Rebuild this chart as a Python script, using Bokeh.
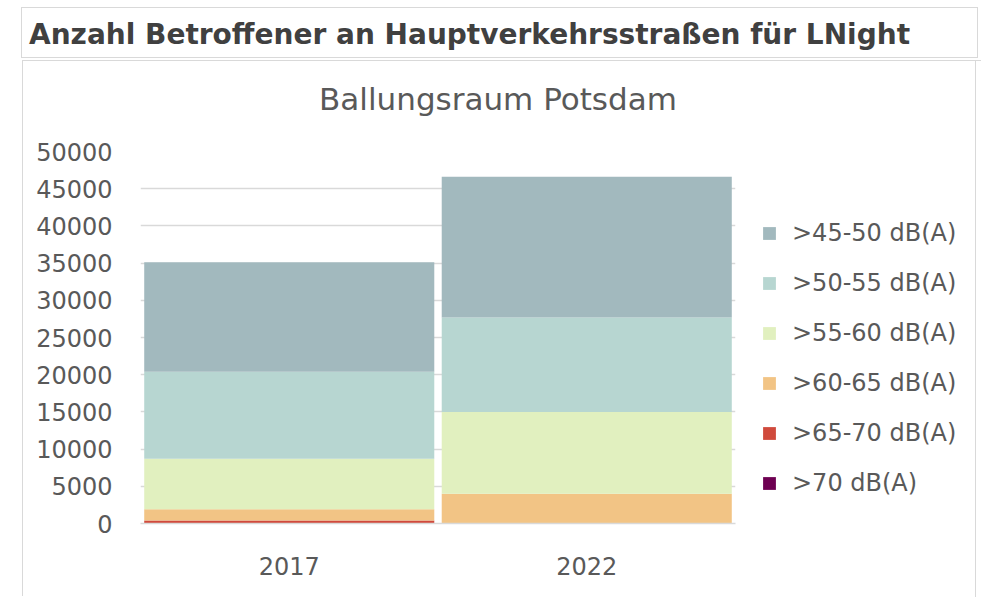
from bokeh.plotting import figure
from bokeh.layouts import column
from bokeh.models import (ColumnDataSource, FactorRange, Legend, LegendItem, Div,
                          FixedTicker, NumeralTickFormatter)
from bokeh.embed import file_html
from bokeh.resources import INLINE

# ---- data ----
years = ["2017", "2022"]
levels = [">70 dB(A)", ">65-70 dB(A)", ">60-65 dB(A)", ">55-60 dB(A)", ">50-55 dB(A)", ">45-50 dB(A)"]
v_ge70 = [0, 0]
v_65_70 = [400, 0]
v_60_65 = [1500, 4000]
v_55_60 = [6800, 11000]
v_50_55 = [11700, 12700]
v_45_50 = [14700, 18900]
colors = ["#6E0052", "#D04A3C", "#F2C485", "#E1F0BF", "#B7D6D1", "#A2B9BE"]
y_ticks = [0, 5000, 10000, 15000, 20000, 25000, 30000, 35000, 40000, 45000, 50000]

title_text = "Anzahl Betroffener an Hauptverkehrsstraßen für LNight"
subtitle_text = "Ballungsraum Potsdam"

keys = ["ge70", "s65_70", "s60_65", "s55_60", "s50_55", "s45_50"]
source = ColumnDataSource(dict(years=years, ge70=v_ge70, s65_70=v_65_70, s60_65=v_60_65,
                               s55_60=v_55_60, s50_55=v_50_55, s45_50=v_45_50))

FONT = "DejaVu Sans"
GRAY = "#595959"
BORDER = "1.5px solid #D9D9D9"

title_div = Div(text=title_text, width=957, height=51, margin=(7, 0, 0, 21),
                styles={"border": BORDER, "box-sizing": "border-box",
                        "font-family": FONT, "font-weight": "bold", "font-size": "28px",
                        "color": "#404040", "padding-left": "7px", "padding-top": "3px",
                        "line-height": "48px",
                        "white-space": "nowrap", "overflow": "hidden"})

sub_div = Div(text=subtitle_text, width=950, height=70, margin=0,
              styles={"font-family": FONT, "font-size": "31px", "color": GRAY,
                      "text-align": "center", "line-height": "77px", "white-space": "nowrap"})

p = figure(x_range=FactorRange(*years, range_padding=0), y_range=(0, 50000),
           frame_width=595, frame_height=372, output_backend="svg", toolbar_location=None,
           min_border_left=117, min_border_right=0, min_border_top=20, min_border_bottom=73,
           outline_line_color=None, title=None, margin=0)
p.x_range.range_padding = 0

rs = p.vbar_stack(keys, x="years", width=0.975, color=colors, line_color=None, source=source)

# axes
p.yaxis.ticker = FixedTicker(ticks=y_ticks)
p.yaxis.formatter = NumeralTickFormatter(format="0")
p.yaxis.axis_line_color = None
p.yaxis.major_tick_line_color = None
p.yaxis.minor_tick_line_color = None
p.yaxis.major_label_standoff = 22
p.yaxis.major_label_text_font = FONT
p.yaxis.major_label_text_font_size = "24px"
p.yaxis.major_label_text_color = GRAY

p.xaxis.axis_line_color = "#D9D9D9"
p.xaxis.axis_line_width = 1.5
p.xaxis.major_tick_line_color = None
p.xaxis.minor_tick_line_color = None
p.xaxis.major_label_standoff = 27
p.xaxis.major_label_text_font = FONT
p.xaxis.major_label_text_font_size = "24px"
p.xaxis.major_label_text_color = GRAY

p.xgrid.grid_line_color = None
p.ygrid.grid_line_color = "#D9D9D9"
p.ygrid.grid_line_width = 1.5

# legend (top item = >45-50)
items = [LegendItem(label=levels[i], renderers=[rs[i]]) for i in reversed(range(len(levels)))]
legend = Legend(items=items, location="bottom_left", orientation="vertical",
                label_text_font=FONT, label_text_font_size="24px", label_text_color=GRAY,
                glyph_width=16, glyph_height=16, label_height=28, spacing=22,
                label_standoff=15, padding=0, margin=26,
                border_line_color=None, background_fill_alpha=0)
p.add_layout(legend, "right")

chart_box = column(sub_div, p, spacing=0, margin=(2, 0, 0, 22),
                   styles={"border-left": BORDER, "border-top": BORDER},
                   stylesheets=[":host { position: relative; } "
                                ":host::after { content: ''; position: absolute; left: 951.5px; "
                                "top: -1.5px; width: 1.5px; height: 600px; background: #D9D9D9; "
                                "z-index: 10; pointer-events: none; }"])

layout = column(title_div, chart_box, spacing=0)
open("out.html", "w").write(file_html(layout, INLINE))
